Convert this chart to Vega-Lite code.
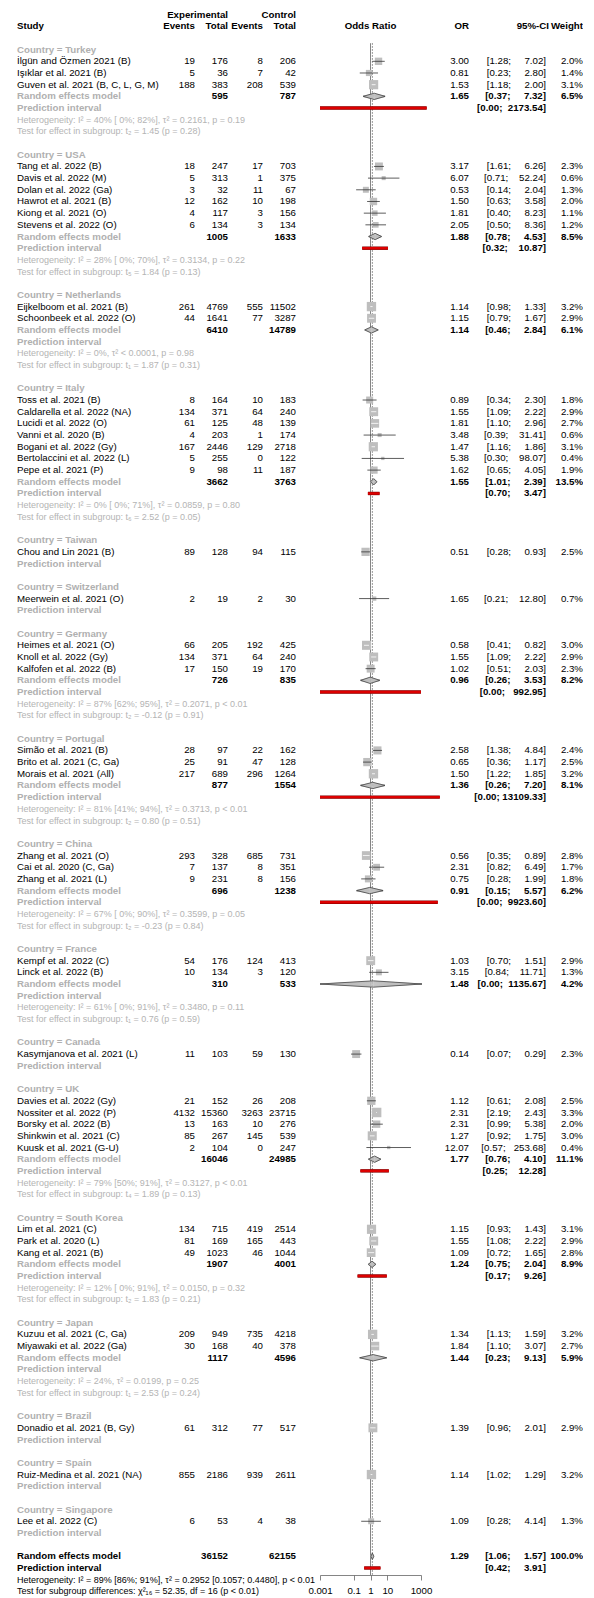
{
  "$schema": "https://vega.github.io/schema/vega-lite/v6.json",
  "padding": {"left": 17, "top": 0, "right": 0, "bottom": 0},
  "bounds": "flush",
  "spacing": 0,
  "config": {
    "view": {"stroke": null},
    "text": {"font": "Liberation Sans", "fontSize": 9.7, "baseline": "middle", "color": "#000000"}
  },
  "datasets": {
    "hdr": [
      {"r": -3, "col": "et", "label": "Experimental"},
      {"r": -3, "col": "ct", "label": "Control"},
      {"r": -2, "col": "study", "label": "Study"},
      {"r": -2, "col": "ee", "label": "Events"},
      {"r": -2, "col": "et", "label": "Total"},
      {"r": -2, "col": "ce", "label": "Events"},
      {"r": -2, "col": "ct", "label": "Total"},
      {"r": -2, "col": "forest", "label": "Odds Ratio"},
      {"r": -2, "col": "or", "label": "OR"},
      {"r": -2, "col": "ci", "label": "95%-CI"},
      {"r": -2, "col": "w", "label": "Weight"}
    ],
    "rows": [
      {"r": 0, "kind": "grp", "study": "Country = Turkey"},
      {"r": 1, "kind": "study", "study": "İlgün and Özmen 2021 (B)", "ee": 19, "et": 176, "ce": 8, "ct": 206, "est": 3.00, "lo": 1.28, "hi": 7.02, "w": 0.020, "ci": "[1.28;\u00a0\u00a0\u00a0\u00a0\u00a07.02]"},
      {"r": 2, "kind": "study", "study": "Işıklar et al. 2021 (B)", "ee": 5, "et": 36, "ce": 7, "ct": 42, "est": 0.81, "lo": 0.23, "hi": 2.80, "w": 0.014, "ci": "[0.23;\u00a0\u00a0\u00a0\u00a0\u00a02.80]"},
      {"r": 3, "kind": "study", "study": "Guven et al. 2021 (B, C, L, G, M)", "ee": 188, "et": 383, "ce": 208, "ct": 539, "est": 1.53, "lo": 1.18, "hi": 2.00, "w": 0.031, "ci": "[1.18;\u00a0\u00a0\u00a0\u00a0\u00a02.00]"},
      {"r": 4, "kind": "re", "study": "Random effects model", "et": 595, "ct": 787, "est": 1.65, "lo": 0.37, "hi": 7.32, "w": 0.065, "ci": "[0.37;\u00a0\u00a0\u00a0\u00a0\u00a07.32]"},
      {"r": 5, "kind": "pi", "study": "Prediction interval", "lo": 0.001, "hi": 2173.54, "ci": "[0.00;\u00a0\u00a02173.54]"},
      {"r": 6, "kind": "het", "study": "Heterogeneity: I² = 40% [ 0%; 82%], τ² = 0.2161, p = 0.19"},
      {"r": 7, "kind": "het", "study": "Test for effect in subgroup: t₂ = 1.45 (p = 0.28)"},

      {"r": 9, "kind": "grp", "study": "Country = USA"},
      {"r": 10, "kind": "study", "study": "Tang et al. 2022 (B)", "ee": 18, "et": 247, "ce": 17, "ct": 703, "est": 3.17, "lo": 1.61, "hi": 6.26, "w": 0.023, "ci": "[1.61;\u00a0\u00a0\u00a0\u00a0\u00a06.26]"},
      {"r": 11, "kind": "study", "study": "Davis et al. 2022 (M)", "ee": 5, "et": 313, "ce": 1, "ct": 375, "est": 6.07, "lo": 0.71, "hi": 52.24, "w": 0.006, "ci": "[0.71;\u00a0\u00a0\u00a0\u00a052.24]"},
      {"r": 12, "kind": "study", "study": "Dolan et al. 2022 (Ga)", "ee": 3, "et": 32, "ce": 11, "ct": 67, "est": 0.53, "lo": 0.14, "hi": 2.04, "w": 0.013, "ci": "[0.14;\u00a0\u00a0\u00a0\u00a0\u00a02.04]"},
      {"r": 13, "kind": "study", "study": "Hawrot et al. 2021 (B)", "ee": 12, "et": 162, "ce": 10, "ct": 198, "est": 1.50, "lo": 0.63, "hi": 3.58, "w": 0.020, "ci": "[0.63;\u00a0\u00a0\u00a0\u00a0\u00a03.58]"},
      {"r": 14, "kind": "study", "study": "Kiong et al. 2021 (O)", "ee": 4, "et": 117, "ce": 3, "ct": 156, "est": 1.81, "lo": 0.40, "hi": 8.23, "w": 0.011, "ci": "[0.40;\u00a0\u00a0\u00a0\u00a0\u00a08.23]"},
      {"r": 15, "kind": "study", "study": "Stevens et al. 2022 (O)", "ee": 6, "et": 134, "ce": 3, "ct": 134, "est": 2.05, "lo": 0.50, "hi": 8.36, "w": 0.012, "ci": "[0.50;\u00a0\u00a0\u00a0\u00a0\u00a08.36]"},
      {"r": 16, "kind": "re", "study": "Random effects model", "et": 1005, "ct": 1633, "est": 1.88, "lo": 0.78, "hi": 4.53, "w": 0.085, "ci": "[0.78;\u00a0\u00a0\u00a0\u00a0\u00a04.53]"},
      {"r": 17, "kind": "pi", "study": "Prediction interval", "lo": 0.32, "hi": 10.87, "ci": "[0.32;\u00a0\u00a0\u00a0\u00a010.87]"},
      {"r": 18, "kind": "het", "study": "Heterogeneity: I² = 28% [ 0%; 70%], τ² = 0.3134, p = 0.22"},
      {"r": 19, "kind": "het", "study": "Test for effect in subgroup: t₅ = 1.84 (p = 0.13)"},

      {"r": 21, "kind": "grp", "study": "Country = Netherlands"},
      {"r": 22, "kind": "study", "study": "Eijkelboom et al. 2021 (B)", "ee": 261, "et": 4769, "ce": 555, "ct": 11502, "est": 1.14, "lo": 0.98, "hi": 1.33, "w": 0.032, "ci": "[0.98;\u00a0\u00a0\u00a0\u00a0\u00a01.33]"},
      {"r": 23, "kind": "study", "study": "Schoonbeek et al. 2022 (O)", "ee": 44, "et": 1641, "ce": 77, "ct": 3287, "est": 1.15, "lo": 0.79, "hi": 1.67, "w": 0.029, "ci": "[0.79;\u00a0\u00a0\u00a0\u00a0\u00a01.67]"},
      {"r": 24, "kind": "re", "study": "Random effects model", "et": 6410, "ct": 14789, "est": 1.14, "lo": 0.46, "hi": 2.84, "w": 0.061, "ci": "[0.46;\u00a0\u00a0\u00a0\u00a0\u00a02.84]"},
      {"r": 25, "kind": "pi", "study": "Prediction interval"},
      {"r": 26, "kind": "het", "study": "Heterogeneity: I² = 0%, τ² < 0.0001, p = 0.98"},
      {"r": 27, "kind": "het", "study": "Test for effect in subgroup: t₁ = 1.87 (p = 0.31)"},

      {"r": 29, "kind": "grp", "study": "Country = Italy"},
      {"r": 30, "kind": "study", "study": "Toss et al. 2021 (B)", "ee": 8, "et": 164, "ce": 10, "ct": 183, "est": 0.89, "lo": 0.34, "hi": 2.30, "w": 0.018, "ci": "[0.34;\u00a0\u00a0\u00a0\u00a0\u00a02.30]"},
      {"r": 31, "kind": "study", "study": "Caldarella et al. 2022 (NA)", "ee": 134, "et": 371, "ce": 64, "ct": 240, "est": 1.55, "lo": 1.09, "hi": 2.22, "w": 0.029, "ci": "[1.09;\u00a0\u00a0\u00a0\u00a0\u00a02.22]"},
      {"r": 32, "kind": "study", "study": "Lucidi et al. 2022 (O)", "ee": 61, "et": 125, "ce": 48, "ct": 139, "est": 1.81, "lo": 1.10, "hi": 2.96, "w": 0.027, "ci": "[1.10;\u00a0\u00a0\u00a0\u00a0\u00a02.96]"},
      {"r": 33, "kind": "study", "study": "Vanni et al. 2020 (B)", "ee": 4, "et": 203, "ce": 1, "ct": 174, "est": 3.48, "lo": 0.39, "hi": 31.41, "w": 0.006, "ci": "[0.39;\u00a0\u00a0\u00a0\u00a031.41]"},
      {"r": 34, "kind": "study", "study": "Bogani et al. 2022 (Gy)", "ee": 167, "et": 2446, "ce": 129, "ct": 2718, "est": 1.47, "lo": 1.16, "hi": 1.86, "w": 0.031, "ci": "[1.16;\u00a0\u00a0\u00a0\u00a0\u00a01.86]"},
      {"r": 35, "kind": "study", "study": "Bertolaccini et al. 2022 (L)", "ee": 5, "et": 255, "ce": 0, "ct": 122, "est": 5.38, "lo": 0.30, "hi": 98.07, "w": 0.004, "ci": "[0.30;\u00a0\u00a0\u00a0\u00a098.07]"},
      {"r": 36, "kind": "study", "study": "Pepe et al. 2021 (P)", "ee": 9, "et": 98, "ce": 11, "ct": 187, "est": 1.62, "lo": 0.65, "hi": 4.05, "w": 0.019, "ci": "[0.65;\u00a0\u00a0\u00a0\u00a0\u00a04.05]"},
      {"r": 37, "kind": "re", "study": "Random effects model", "et": 3662, "ct": 3763, "est": 1.55, "lo": 1.01, "hi": 2.39, "w": 0.135, "ci": "[1.01;\u00a0\u00a0\u00a0\u00a0\u00a02.39]"},
      {"r": 38, "kind": "pi", "study": "Prediction interval", "lo": 0.70, "hi": 3.47, "ci": "[0.70;\u00a0\u00a0\u00a0\u00a0\u00a03.47]"},
      {"r": 39, "kind": "het", "study": "Heterogeneity: I² = 0% [ 0%; 71%], τ² = 0.0859, p = 0.80"},
      {"r": 40, "kind": "het", "study": "Test for effect in subgroup: t₆ = 2.52 (p = 0.05)"},

      {"r": 42, "kind": "grp", "study": "Country = Taiwan"},
      {"r": 43, "kind": "study", "study": "Chou and Lin 2021 (B)", "ee": 89, "et": 128, "ce": 94, "ct": 115, "est": 0.51, "lo": 0.28, "hi": 0.93, "w": 0.025, "ci": "[0.28;\u00a0\u00a0\u00a0\u00a0\u00a00.93]"},
      {"r": 44, "kind": "pi", "study": "Prediction interval"},

      {"r": 46, "kind": "grp", "study": "Country = Switzerland"},
      {"r": 47, "kind": "study", "study": "Meerwein et al. 2021 (O)", "ee": 2, "et": 19, "ce": 2, "ct": 30, "est": 1.65, "lo": 0.21, "hi": 12.80, "w": 0.007, "ci": "[0.21;\u00a0\u00a0\u00a0\u00a012.80]"},
      {"r": 48, "kind": "pi", "study": "Prediction interval"},

      {"r": 50, "kind": "grp", "study": "Country = Germany"},
      {"r": 51, "kind": "study", "study": "Heimes et al. 2021 (O)", "ee": 66, "et": 205, "ce": 192, "ct": 425, "est": 0.58, "lo": 0.41, "hi": 0.82, "w": 0.030, "ci": "[0.41;\u00a0\u00a0\u00a0\u00a0\u00a00.82]"},
      {"r": 52, "kind": "study", "study": "Knoll et al. 2022 (Gy)", "ee": 134, "et": 371, "ce": 64, "ct": 240, "est": 1.55, "lo": 1.09, "hi": 2.22, "w": 0.029, "ci": "[1.09;\u00a0\u00a0\u00a0\u00a0\u00a02.22]"},
      {"r": 53, "kind": "study", "study": "Kalfofen et al. 2022 (B)", "ee": 17, "et": 150, "ce": 19, "ct": 170, "est": 1.02, "lo": 0.51, "hi": 2.03, "w": 0.023, "ci": "[0.51;\u00a0\u00a0\u00a0\u00a0\u00a02.03]"},
      {"r": 54, "kind": "re", "study": "Random effects model", "et": 726, "ct": 835, "est": 0.96, "lo": 0.26, "hi": 3.53, "w": 0.082, "ci": "[0.26;\u00a0\u00a0\u00a0\u00a0\u00a03.53]"},
      {"r": 55, "kind": "pi", "study": "Prediction interval", "lo": 0.001, "hi": 992.95, "ci": "[0.00;\u00a0\u00a0\u00a0992.95]"},
      {"r": 56, "kind": "het", "study": "Heterogeneity: I² = 87% [62%; 95%], τ² = 0.2071, p < 0.01"},
      {"r": 57, "kind": "het", "study": "Test for effect in subgroup: t₂ = -0.12 (p = 0.91)"},

      {"r": 59, "kind": "grp", "study": "Country = Portugal"},
      {"r": 60, "kind": "study", "study": "Simão et al. 2021 (B)", "ee": 28, "et": 97, "ce": 22, "ct": 162, "est": 2.58, "lo": 1.38, "hi": 4.84, "w": 0.024, "ci": "[1.38;\u00a0\u00a0\u00a0\u00a0\u00a04.84]"},
      {"r": 61, "kind": "study", "study": "Brito et al. 2021 (C, Ga)", "ee": 25, "et": 91, "ce": 47, "ct": 128, "est": 0.65, "lo": 0.36, "hi": 1.17, "w": 0.025, "ci": "[0.36;\u00a0\u00a0\u00a0\u00a0\u00a01.17]"},
      {"r": 62, "kind": "study", "study": "Morais et al. 2021 (All)", "ee": 217, "et": 689, "ce": 296, "ct": 1264, "est": 1.50, "lo": 1.22, "hi": 1.85, "w": 0.032, "ci": "[1.22;\u00a0\u00a0\u00a0\u00a0\u00a01.85]"},
      {"r": 63, "kind": "re", "study": "Random effects model", "et": 877, "ct": 1554, "est": 1.36, "lo": 0.26, "hi": 7.20, "w": 0.081, "ci": "[0.26;\u00a0\u00a0\u00a0\u00a0\u00a07.20]"},
      {"r": 64, "kind": "pi", "study": "Prediction interval", "lo": 0.001, "hi": 13109.33, "ci": "[0.00;\u00a013109.33]"},
      {"r": 65, "kind": "het", "study": "Heterogeneity: I² = 81% [41%; 94%], τ² = 0.3713, p < 0.01"},
      {"r": 66, "kind": "het", "study": "Test for effect in subgroup: t₂ = 0.80 (p = 0.51)"},

      {"r": 68, "kind": "grp", "study": "Country = China"},
      {"r": 69, "kind": "study", "study": "Zhang et al. 2021 (O)", "ee": 293, "et": 328, "ce": 685, "ct": 731, "est": 0.56, "lo": 0.35, "hi": 0.89, "w": 0.028, "ci": "[0.35;\u00a0\u00a0\u00a0\u00a0\u00a00.89]"},
      {"r": 70, "kind": "study", "study": "Cai et al. 2020 (C, Ga)", "ee": 7, "et": 137, "ce": 8, "ct": 351, "est": 2.31, "lo": 0.82, "hi": 6.49, "w": 0.017, "ci": "[0.82;\u00a0\u00a0\u00a0\u00a0\u00a06.49]"},
      {"r": 71, "kind": "study", "study": "Zhang et al. 2021 (L)", "ee": 9, "et": 231, "ce": 8, "ct": 156, "est": 0.75, "lo": 0.28, "hi": 1.99, "w": 0.018, "ci": "[0.28;\u00a0\u00a0\u00a0\u00a0\u00a01.99]"},
      {"r": 72, "kind": "re", "study": "Random effects model", "et": 696, "ct": 1238, "est": 0.91, "lo": 0.15, "hi": 5.57, "w": 0.062, "ci": "[0.15;\u00a0\u00a0\u00a0\u00a0\u00a05.57]"},
      {"r": 73, "kind": "pi", "study": "Prediction interval", "lo": 0.001, "hi": 9923.60, "ci": "[0.00;\u00a0\u00a09923.60]"},
      {"r": 74, "kind": "het", "study": "Heterogeneity: I² = 67% [ 0%; 90%], τ² = 0.3599, p = 0.05"},
      {"r": 75, "kind": "het", "study": "Test for effect in subgroup: t₂ = -0.23 (p = 0.84)"},

      {"r": 77, "kind": "grp", "study": "Country = France"},
      {"r": 78, "kind": "study", "study": "Kempf et al. 2022 (C)", "ee": 54, "et": 176, "ce": 124, "ct": 413, "est": 1.03, "lo": 0.70, "hi": 1.51, "w": 0.029, "ci": "[0.70;\u00a0\u00a0\u00a0\u00a0\u00a01.51]"},
      {"r": 79, "kind": "study", "study": "Linck et al. 2022 (B)", "ee": 10, "et": 134, "ce": 3, "ct": 120, "est": 3.15, "lo": 0.84, "hi": 11.71, "w": 0.013, "ci": "[0.84;\u00a0\u00a0\u00a0\u00a011.71]"},
      {"r": 80, "kind": "re", "study": "Random effects model", "et": 310, "ct": 533, "est": 1.48, "lo": 0.001, "hi": 1135.67, "w": 0.042, "ci": "[0.00;\u00a0\u00a01135.67]"},
      {"r": 81, "kind": "pi", "study": "Prediction interval"},
      {"r": 82, "kind": "het", "study": "Heterogeneity: I² = 61% [ 0%; 91%], τ² = 0.3480, p = 0.11"},
      {"r": 83, "kind": "het", "study": "Test for effect in subgroup: t₁ = 0.76 (p = 0.59)"},

      {"r": 85, "kind": "grp", "study": "Country = Canada"},
      {"r": 86, "kind": "study", "study": "Kasymjanova et al. 2021 (L)", "ee": 11, "et": 103, "ce": 59, "ct": 130, "est": 0.14, "lo": 0.07, "hi": 0.29, "w": 0.023, "ci": "[0.07;\u00a0\u00a0\u00a0\u00a0\u00a00.29]"},
      {"r": 87, "kind": "pi", "study": "Prediction interval"},

      {"r": 89, "kind": "grp", "study": "Country = UK"},
      {"r": 90, "kind": "study", "study": "Davies et al. 2022 (Gy)", "ee": 21, "et": 152, "ce": 26, "ct": 208, "est": 1.12, "lo": 0.61, "hi": 2.08, "w": 0.025, "ci": "[0.61;\u00a0\u00a0\u00a0\u00a0\u00a02.08]"},
      {"r": 91, "kind": "study", "study": "Nossiter et al. 2022 (P)", "ee": 4132, "et": 15360, "ce": 3263, "ct": 23715, "est": 2.31, "lo": 2.19, "hi": 2.43, "w": 0.033, "ci": "[2.19;\u00a0\u00a0\u00a0\u00a0\u00a02.43]"},
      {"r": 92, "kind": "study", "study": "Borsky et al. 2022 (B)", "ee": 13, "et": 163, "ce": 10, "ct": 276, "est": 2.31, "lo": 0.99, "hi": 5.38, "w": 0.020, "ci": "[0.99;\u00a0\u00a0\u00a0\u00a0\u00a05.38]"},
      {"r": 93, "kind": "study", "study": "Shinkwin et al. 2021 (C)", "ee": 85, "et": 267, "ce": 145, "ct": 539, "est": 1.27, "lo": 0.92, "hi": 1.75, "w": 0.030, "ci": "[0.92;\u00a0\u00a0\u00a0\u00a0\u00a01.75]"},
      {"r": 94, "kind": "study", "study": "Kuusk et al. 2021 (G-U)", "ee": 2, "et": 104, "ce": 0, "ct": 247, "est": 12.07, "lo": 0.57, "hi": 253.68, "w": 0.004, "ci": "[0.57;\u00a0\u00a0\u00a0253.68]"},
      {"r": 95, "kind": "re", "study": "Random effects model", "et": 16046, "ct": 24985, "est": 1.77, "lo": 0.76, "hi": 4.10, "w": 0.111, "ci": "[0.76;\u00a0\u00a0\u00a0\u00a0\u00a04.10]"},
      {"r": 96, "kind": "pi", "study": "Prediction interval", "lo": 0.25, "hi": 12.28, "ci": "[0.25;\u00a0\u00a0\u00a0\u00a012.28]"},
      {"r": 97, "kind": "het", "study": "Heterogeneity: I² = 79% [50%; 91%], τ² = 0.3127, p < 0.01"},
      {"r": 98, "kind": "het", "study": "Test for effect in subgroup: t₄ = 1.89 (p = 0.13)"},

      {"r": 100, "kind": "grp", "study": "Country = South Korea"},
      {"r": 101, "kind": "study", "study": "Lim et al. 2021 (C)", "ee": 134, "et": 715, "ce": 419, "ct": 2514, "est": 1.15, "lo": 0.93, "hi": 1.43, "w": 0.031, "ci": "[0.93;\u00a0\u00a0\u00a0\u00a0\u00a01.43]"},
      {"r": 102, "kind": "study", "study": "Park et al. 2020 (L)", "ee": 81, "et": 169, "ce": 165, "ct": 443, "est": 1.55, "lo": 1.08, "hi": 2.22, "w": 0.029, "ci": "[1.08;\u00a0\u00a0\u00a0\u00a0\u00a02.22]"},
      {"r": 103, "kind": "study", "study": "Kang et al. 2021 (B)", "ee": 49, "et": 1023, "ce": 46, "ct": 1044, "est": 1.09, "lo": 0.72, "hi": 1.65, "w": 0.028, "ci": "[0.72;\u00a0\u00a0\u00a0\u00a0\u00a01.65]"},
      {"r": 104, "kind": "re", "study": "Random effects model", "et": 1907, "ct": 4001, "est": 1.24, "lo": 0.75, "hi": 2.04, "w": 0.089, "ci": "[0.75;\u00a0\u00a0\u00a0\u00a0\u00a02.04]"},
      {"r": 105, "kind": "pi", "study": "Prediction interval", "lo": 0.17, "hi": 9.26, "ci": "[0.17;\u00a0\u00a0\u00a0\u00a0\u00a09.26]"},
      {"r": 106, "kind": "het", "study": "Heterogeneity: I² = 12% [ 0%; 91%], τ² = 0.0150, p = 0.32"},
      {"r": 107, "kind": "het", "study": "Test for effect in subgroup: t₂ = 1.83 (p = 0.21)"},

      {"r": 109, "kind": "grp", "study": "Country = Japan"},
      {"r": 110, "kind": "study", "study": "Kuzuu et al. 2021 (C, Ga)", "ee": 209, "et": 949, "ce": 735, "ct": 4218, "est": 1.34, "lo": 1.13, "hi": 1.59, "w": 0.032, "ci": "[1.13;\u00a0\u00a0\u00a0\u00a0\u00a01.59]"},
      {"r": 111, "kind": "study", "study": "Miyawaki et al. 2022 (Ga)", "ee": 30, "et": 168, "ce": 40, "ct": 378, "est": 1.84, "lo": 1.10, "hi": 3.07, "w": 0.027, "ci": "[1.10;\u00a0\u00a0\u00a0\u00a0\u00a03.07]"},
      {"r": 112, "kind": "re", "study": "Random effects model", "et": 1117, "ct": 4596, "est": 1.44, "lo": 0.23, "hi": 9.13, "w": 0.059, "ci": "[0.23;\u00a0\u00a0\u00a0\u00a0\u00a09.13]"},
      {"r": 113, "kind": "pi", "study": "Prediction interval"},
      {"r": 114, "kind": "het", "study": "Heterogeneity: I² = 24%, τ² = 0.0199, p = 0.25"},
      {"r": 115, "kind": "het", "study": "Test for effect in subgroup: t₁ = 2.53 (p = 0.24)"},

      {"r": 117, "kind": "grp", "study": "Country = Brazil"},
      {"r": 118, "kind": "study", "study": "Donadio et al. 2021 (B, Gy)", "ee": 61, "et": 312, "ce": 77, "ct": 517, "est": 1.39, "lo": 0.96, "hi": 2.01, "w": 0.029, "ci": "[0.96;\u00a0\u00a0\u00a0\u00a0\u00a02.01]"},
      {"r": 119, "kind": "pi", "study": "Prediction interval"},

      {"r": 121, "kind": "grp", "study": "Country = Spain"},
      {"r": 122, "kind": "study", "study": "Ruiz-Medina et al. 2021 (NA)", "ee": 855, "et": 2186, "ce": 939, "ct": 2611, "est": 1.14, "lo": 1.02, "hi": 1.29, "w": 0.032, "ci": "[1.02;\u00a0\u00a0\u00a0\u00a0\u00a01.29]"},
      {"r": 123, "kind": "pi", "study": "Prediction interval"},

      {"r": 125, "kind": "grp", "study": "Country = Singapore"},
      {"r": 126, "kind": "study", "study": "Lee et al. 2022 (C)", "ee": 6, "et": 53, "ce": 4, "ct": 38, "est": 1.09, "lo": 0.28, "hi": 4.14, "w": 0.013, "ci": "[0.28;\u00a0\u00a0\u00a0\u00a0\u00a04.14]"},
      {"r": 127, "kind": "pi", "study": "Prediction interval"},

      {"r": 129, "kind": "ore", "study": "Random effects model", "et": 36152, "ct": 62155, "est": 1.29, "lo": 1.06, "hi": 1.57, "w": 1.0, "ci": "[1.06;\u00a0\u00a0\u00a0\u00a0\u00a01.57]"},
      {"r": 130, "kind": "opi", "study": "Prediction interval", "lo": 0.42, "hi": 3.91, "ci": "[0.42;\u00a0\u00a0\u00a0\u00a0\u00a03.91]"},
      {"r": 131, "kind": "ohet", "study": "Heterogeneity: I² = 89% [86%; 91%], τ² = 0.2952 [0.1057; 0.4480], p < 0.01"},
      {"r": 132, "kind": "ohet", "study": "Test for subgroup differences: χ²₁₆ = 52.35, df = 16 (p < 0.01)"}
    ]
  },
  "hconcat": [
    {
      "width": 178, "height": 1597,
      "encoding": {"y": {"field": "r", "type": "quantitative", "scale": {"domain": [-4.25, 132.48], "reverse": true, "nice": false, "zero": false}, "axis": null}},
      "layer": [
        {"data": {"name": "hdr"}, "transform": [{"filter": {"field": "col", "equal": "study"}}], "mark": {"type": "text", "align": "left", "x": 0, "fontWeight": "bold"}, "encoding": {"text": {"field": "label", "type": "nominal"}}},
        {"data": {"name": "hdr"}, "transform": [{"filter": {"field": "col", "equal": "ee"}}], "mark": {"type": "text", "align": "right", "x": "width", "fontWeight": "bold"}, "encoding": {"text": {"field": "label", "type": "nominal"}}},
        {"data": {"name": "rows"}, "transform": [{"filter": {"field": "kind", "equal": "study"}}], "mark": {"type": "text", "align": "left", "x": 0}, "encoding": {"text": {"field": "study", "type": "nominal"}}},
        {"data": {"name": "rows"}, "transform": [{"filter": {"field": "kind", "oneOf": ["grp", "re", "pi"]}}], "mark": {"type": "text", "align": "left", "x": 0, "fontWeight": "bold", "color": "#b0b0b0"}, "encoding": {"text": {"field": "study", "type": "nominal"}}},
        {"data": {"name": "rows"}, "transform": [{"filter": {"field": "kind", "equal": "het"}}], "mark": {"type": "text", "align": "left", "x": 0, "fontSize": 9, "color": "#b4b4b4"}, "encoding": {"text": {"field": "study", "type": "nominal"}}},
        {"data": {"name": "rows"}, "transform": [{"filter": {"field": "kind", "oneOf": ["ore", "opi"]}}], "mark": {"type": "text", "align": "left", "x": 0, "fontWeight": "bold"}, "encoding": {"text": {"field": "study", "type": "nominal"}}},
        {"data": {"name": "rows"}, "transform": [{"filter": {"field": "kind", "equal": "ohet"}}], "mark": {"type": "text", "align": "left", "x": 0, "fontSize": 9}, "encoding": {"text": {"field": "study", "type": "nominal"}}},
        {"data": {"name": "rows"}, "transform": [{"filter": {"field": "kind", "equal": "study"}}], "mark": {"type": "text", "align": "right", "x": "width"}, "encoding": {"text": {"field": "ee", "type": "nominal"}}}
      ]
    },
    {
      "width": 33, "height": 1597,
      "encoding": {"y": {"field": "r", "type": "quantitative", "scale": {"domain": [-4.25, 132.48], "reverse": true, "nice": false, "zero": false}, "axis": null}},
      "layer": [
        {"data": {"name": "hdr"}, "transform": [{"filter": {"field": "col", "equal": "et"}}], "mark": {"type": "text", "align": "right", "x": "width", "fontWeight": "bold"}, "encoding": {"text": {"field": "label", "type": "nominal"}}},
        {"data": {"name": "rows"}, "transform": [{"filter": {"field": "kind", "equal": "study"}}], "mark": {"type": "text", "align": "right", "x": "width"}, "encoding": {"text": {"field": "et", "type": "nominal"}}},
        {"data": {"name": "rows"}, "transform": [{"filter": {"field": "kind", "oneOf": ["re", "ore"]}}], "mark": {"type": "text", "align": "right", "x": "width", "fontWeight": "bold"}, "encoding": {"text": {"field": "et", "type": "nominal"}}}
      ]
    },
    {
      "width": 35, "height": 1597,
      "encoding": {"y": {"field": "r", "type": "quantitative", "scale": {"domain": [-4.25, 132.48], "reverse": true, "nice": false, "zero": false}, "axis": null}},
      "layer": [
        {"data": {"name": "hdr"}, "transform": [{"filter": {"field": "col", "equal": "ce"}}], "mark": {"type": "text", "align": "right", "x": "width", "fontWeight": "bold"}, "encoding": {"text": {"field": "label", "type": "nominal"}}},
        {"data": {"name": "rows"}, "transform": [{"filter": {"field": "kind", "equal": "study"}}], "mark": {"type": "text", "align": "right", "x": "width"}, "encoding": {"text": {"field": "ce", "type": "nominal"}}}
      ]
    },
    {
      "width": 57, "height": 1597,
      "encoding": {"y": {"field": "r", "type": "quantitative", "scale": {"domain": [-4.25, 132.48], "reverse": true, "nice": false, "zero": false}, "axis": null}},
      "layer": [
        {"data": {"name": "hdr"}, "transform": [{"filter": {"field": "col", "equal": "ct"}}], "mark": {"type": "text", "align": "right", "x": "width", "dx": -24, "fontWeight": "bold"}, "encoding": {"text": {"field": "label", "type": "nominal"}}},
        {"data": {"name": "rows"}, "transform": [{"filter": {"field": "kind", "equal": "study"}}], "mark": {"type": "text", "align": "right", "x": "width", "dx": -24}, "encoding": {"text": {"field": "ct", "type": "nominal"}}},
        {"data": {"name": "rows"}, "transform": [{"filter": {"field": "kind", "oneOf": ["re", "ore"]}}], "mark": {"type": "text", "align": "right", "x": "width", "dx": -24, "fontWeight": "bold"}, "encoding": {"text": {"field": "ct", "type": "nominal"}}}
      ]
    },
    {
      "width": 101, "height": 1575,
      "layer": [
        {
          "data": {"values": [{}]},
          "mark": {"type": "rule", "color": "#666666", "strokeWidth": 0.8},
          "encoding": {
            "x": {"datum": 1, "type": "quantitative", "scale": {"type": "log", "domain": [0.001, 1000], "nice": false},
                  "axis": {"values": [0.001, 0.1, 1, 10, 1000], "format": "~g", "title": null, "grid": false, "orient": "bottom", "domainColor": "#666666", "domainWidth": 0.8, "tickColor": "#666666", "tickWidth": 0.8, "tickSize": 5, "labelFont": "Liberation Sans", "labelFontSize": 9.7, "labelColor": "#000000", "labelPadding": 5, "labelFlush": false, "labelOverlap": false}},
            "y": {"datum": -0.55, "type": "quantitative", "scale": {"domain": [-4.25, 130.6], "reverse": true, "nice": false, "zero": false}, "axis": null},
            "y2": {"datum": 130.6}
          }
        },
        {
          "data": {"name": "rows"},
          "transform": [{"filter": {"field": "kind", "equal": "ore"}}],
          "mark": {"type": "rule", "color": "#555555", "strokeWidth": 0.8, "strokeDash": [1.5, 1.5]},
          "encoding": {
            "x": {"field": "est", "type": "quantitative"},
            "y": {"datum": -0.55, "type": "quantitative", "axis": null},
            "y2": {"datum": 130.6}
          }
        },
        {
          "data": {"name": "rows"},
          "transform": [{"filter": {"field": "kind", "oneOf": ["pi", "opi"]}}, {"filter": {"field": "hi", "valid": true}}],
          "mark": {"type": "rule", "color": "#7a0000", "strokeWidth": 3.4},
          "encoding": {
            "x": {"field": "lo", "type": "quantitative"},
            "x2": {"field": "hi"},
            "y": {"field": "r", "type": "quantitative", "axis": null}
          }
        },
        {
          "data": {"name": "rows"},
          "transform": [{"filter": {"field": "kind", "oneOf": ["pi", "opi"]}}, {"filter": {"field": "hi", "valid": true}}],
          "mark": {"type": "rule", "color": "#dd0000", "strokeWidth": 2.4},
          "encoding": {
            "x": {"field": "lo", "type": "quantitative"},
            "x2": {"field": "hi"},
            "y": {"field": "r", "type": "quantitative", "axis": null}
          }
        },
        {
          "data": {"name": "rows"},
          "transform": [{"filter": {"field": "kind", "equal": "study"}}],
          "mark": {"type": "square", "filled": true, "color": "#bebebe", "opacity": 1},
          "encoding": {
            "x": {"field": "est", "type": "quantitative"},
            "y": {"field": "r", "type": "quantitative", "axis": null},
            "size": {"field": "w", "type": "quantitative", "scale": {"domain": [0, 0.033], "range": [0, 90]}, "legend": null}
          }
        },
        {
          "data": {"name": "rows"},
          "transform": [{"filter": {"field": "kind", "equal": "study"}}],
          "mark": {"type": "rule", "strokeWidth": 0.8},
          "encoding": {
            "x": {"field": "lo", "type": "quantitative"},
            "x2": {"field": "hi"},
            "y": {"field": "r", "type": "quantitative", "axis": null},
            "color": {"condition": {"test": "log(datum.hi / datum.lo) / LN10 * 16.83 < sqrt(2727 * datum.w)", "value": "#ffffff"}, "value": "#333333"}
          }
        },
        {
          "data": {"name": "rows"},
          "transform": [{"filter": {"field": "kind", "oneOf": ["re", "ore"]}}, {"fold": ["lo", "hi"], "as": ["side", "tip"]}],
          "mark": {"type": "rule", "color": "#bebebe", "strokeWidth": 1.2, "y2Offset": -2.7},
          "encoding": {"x": {"field": "tip", "type": "quantitative"}, "x2": {"field": "est"}, "y": {"field": "r", "type": "quantitative", "axis": null}, "y2": {"field": "r"}}
        },
        {
          "data": {"name": "rows"},
          "transform": [{"filter": {"field": "kind", "oneOf": ["re", "ore"]}}, {"fold": ["lo", "hi"], "as": ["side", "tip"]}],
          "mark": {"type": "rule", "color": "#bebebe", "strokeWidth": 1.2, "y2Offset": -1.8},
          "encoding": {"x": {"field": "tip", "type": "quantitative"}, "x2": {"field": "est"}, "y": {"field": "r", "type": "quantitative", "axis": null}, "y2": {"field": "r"}}
        },
        {
          "data": {"name": "rows"},
          "transform": [{"filter": {"field": "kind", "oneOf": ["re", "ore"]}}, {"fold": ["lo", "hi"], "as": ["side", "tip"]}],
          "mark": {"type": "rule", "color": "#bebebe", "strokeWidth": 1.2, "y2Offset": -0.9},
          "encoding": {"x": {"field": "tip", "type": "quantitative"}, "x2": {"field": "est"}, "y": {"field": "r", "type": "quantitative", "axis": null}, "y2": {"field": "r"}}
        },
        {
          "data": {"name": "rows"},
          "transform": [{"filter": {"field": "kind", "oneOf": ["re", "ore"]}}, {"fold": ["lo", "hi"], "as": ["side", "tip"]}],
          "mark": {"type": "rule", "color": "#bebebe", "strokeWidth": 1.2},
          "encoding": {"x": {"field": "tip", "type": "quantitative"}, "x2": {"field": "est"}, "y": {"field": "r", "type": "quantitative", "axis": null}, "y2": {"field": "r"}}
        },
        {
          "data": {"name": "rows"},
          "transform": [{"filter": {"field": "kind", "oneOf": ["re", "ore"]}}, {"fold": ["lo", "hi"], "as": ["side", "tip"]}],
          "mark": {"type": "rule", "color": "#bebebe", "strokeWidth": 1.2, "y2Offset": 0.9},
          "encoding": {"x": {"field": "tip", "type": "quantitative"}, "x2": {"field": "est"}, "y": {"field": "r", "type": "quantitative", "axis": null}, "y2": {"field": "r"}}
        },
        {
          "data": {"name": "rows"},
          "transform": [{"filter": {"field": "kind", "oneOf": ["re", "ore"]}}, {"fold": ["lo", "hi"], "as": ["side", "tip"]}],
          "mark": {"type": "rule", "color": "#bebebe", "strokeWidth": 1.2, "y2Offset": 1.8},
          "encoding": {"x": {"field": "tip", "type": "quantitative"}, "x2": {"field": "est"}, "y": {"field": "r", "type": "quantitative", "axis": null}, "y2": {"field": "r"}}
        },
        {
          "data": {"name": "rows"},
          "transform": [{"filter": {"field": "kind", "oneOf": ["re", "ore"]}}, {"fold": ["lo", "hi"], "as": ["side", "tip"]}],
          "mark": {"type": "rule", "color": "#bebebe", "strokeWidth": 1.2, "y2Offset": 2.7},
          "encoding": {"x": {"field": "tip", "type": "quantitative"}, "x2": {"field": "est"}, "y": {"field": "r", "type": "quantitative", "axis": null}, "y2": {"field": "r"}}
        },
        {
          "data": {"name": "rows"},
          "transform": [{"filter": {"field": "kind", "oneOf": ["re", "ore"]}}, {"fold": ["lo", "hi"], "as": ["side", "tip"]}],
          "mark": {"type": "rule", "color": "#333333", "strokeWidth": 0.7, "y2Offset": -3.2},
          "encoding": {"x": {"field": "tip", "type": "quantitative"}, "x2": {"field": "est"}, "y": {"field": "r", "type": "quantitative", "axis": null}, "y2": {"field": "r"}}
        },
        {
          "data": {"name": "rows"},
          "transform": [{"filter": {"field": "kind", "oneOf": ["re", "ore"]}}, {"fold": ["lo", "hi"], "as": ["side", "tip"]}],
          "mark": {"type": "rule", "color": "#333333", "strokeWidth": 0.7, "y2Offset": 3.2},
          "encoding": {"x": {"field": "tip", "type": "quantitative"}, "x2": {"field": "est"}, "y": {"field": "r", "type": "quantitative", "axis": null}, "y2": {"field": "r"}}
        },
        {
          "data": {"name": "hdr"},
          "transform": [{"filter": {"field": "col", "equal": "forest"}}],
          "mark": {"type": "text", "align": "center", "fontWeight": "bold"},
          "encoding": {
            "x": {"datum": 1, "type": "quantitative"},
            "y": {"field": "r", "type": "quantitative", "axis": null},
            "text": {"field": "label", "type": "nominal"}
          }
        }
      ]
    },
    {
      "width": 48, "height": 1597,
      "encoding": {"y": {"field": "r", "type": "quantitative", "scale": {"domain": [-4.25, 132.48], "reverse": true, "nice": false, "zero": false}, "axis": null}},
      "layer": [
        {"data": {"name": "hdr"}, "transform": [{"filter": {"field": "col", "equal": "or"}}], "mark": {"type": "text", "align": "right", "x": "width", "fontWeight": "bold"}, "encoding": {"text": {"field": "label", "type": "nominal"}}},
        {"data": {"name": "rows"}, "transform": [{"filter": {"field": "kind", "equal": "study"}}], "mark": {"type": "text", "align": "right", "x": "width"}, "encoding": {"text": {"field": "est", "type": "quantitative", "format": ".2f"}}},
        {"data": {"name": "rows"}, "transform": [{"filter": {"field": "kind", "oneOf": ["re", "ore"]}}], "mark": {"type": "text", "align": "right", "x": "width", "fontWeight": "bold"}, "encoding": {"text": {"field": "est", "type": "quantitative", "format": ".2f"}}}
      ]
    },
    {
      "width": 77, "height": 1597,
      "encoding": {"y": {"field": "r", "type": "quantitative", "scale": {"domain": [-4.25, 132.48], "reverse": true, "nice": false, "zero": false}, "axis": null}},
      "layer": [
        {"data": {"name": "hdr"}, "transform": [{"filter": {"field": "col", "equal": "ci"}}], "mark": {"type": "text", "align": "right", "x": "width", "dx": 3, "fontWeight": "bold"}, "encoding": {"text": {"field": "label", "type": "nominal"}}},
        {"data": {"name": "rows"}, "transform": [{"filter": {"field": "kind", "equal": "study"}}], "mark": {"type": "text", "align": "right", "x": "width"}, "encoding": {"text": {"field": "ci", "type": "nominal"}}},
        {"data": {"name": "rows"}, "transform": [{"filter": {"field": "kind", "oneOf": ["re", "pi", "ore", "opi"]}}, {"filter": "isValid(datum.ci)"}], "mark": {"type": "text", "align": "right", "x": "width", "fontWeight": "bold"}, "encoding": {"text": {"field": "ci", "type": "nominal"}}}
      ]
    },
    {
      "width": 37, "height": 1597,
      "encoding": {"y": {"field": "r", "type": "quantitative", "scale": {"domain": [-4.25, 132.48], "reverse": true, "nice": false, "zero": false}, "axis": null}},
      "layer": [
        {"data": {"name": "hdr"}, "transform": [{"filter": {"field": "col", "equal": "w"}}], "mark": {"type": "text", "align": "right", "x": "width", "fontWeight": "bold"}, "encoding": {"text": {"field": "label", "type": "nominal"}}},
        {"data": {"name": "rows"}, "transform": [{"filter": {"field": "kind", "equal": "study"}}], "mark": {"type": "text", "align": "right", "x": "width"}, "encoding": {"text": {"field": "w", "type": "quantitative", "format": ".1%"}}},
        {"data": {"name": "rows"}, "transform": [{"filter": {"field": "kind", "oneOf": ["re", "ore"]}}], "mark": {"type": "text", "align": "right", "x": "width", "fontWeight": "bold"}, "encoding": {"text": {"field": "w", "type": "quantitative", "format": ".1%"}}}
      ]
    }
  ]
}
